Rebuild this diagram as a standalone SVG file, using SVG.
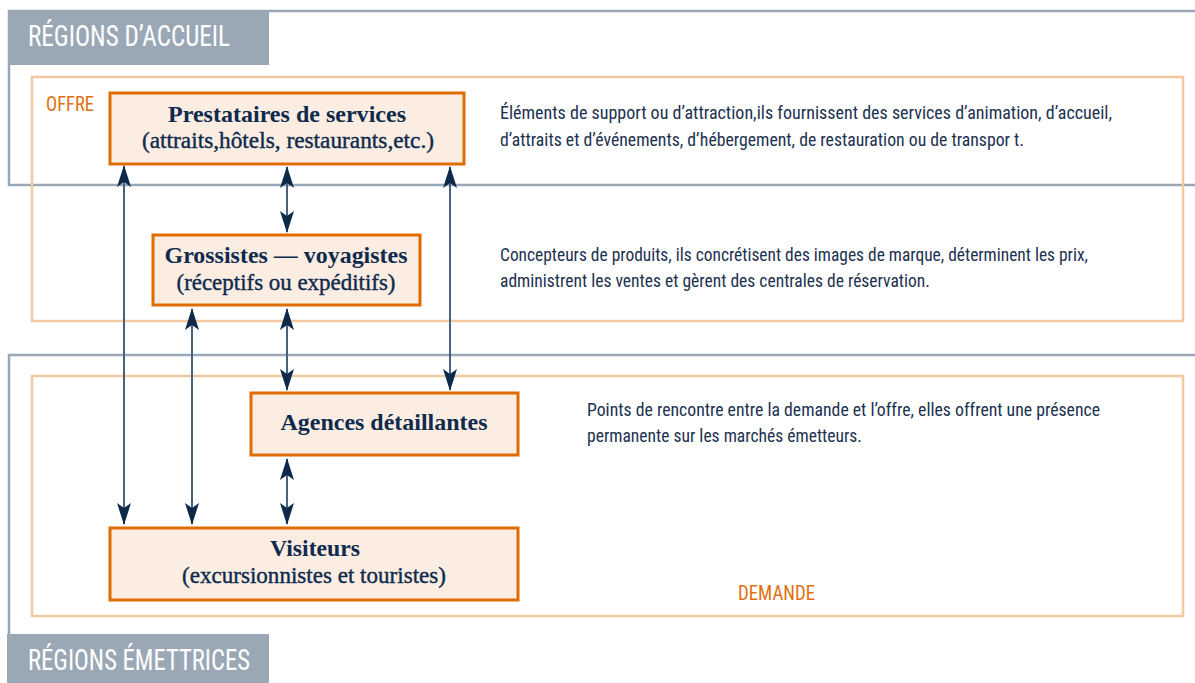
<svg xmlns="http://www.w3.org/2000/svg" width="1195" height="683" viewBox="0 0 1195 683">
<style>
.frame{fill:none;stroke:#9aa8b6;stroke-width:2.5}
.zone{fill:none;stroke:#f4c8a0;stroke-width:2.5}
.tab{fill:#9aa8b6}
.tabtxt{font-family:"Liberation Sans Narrow","Roboto Condensed","Liberation Sans",sans-serif;font-size:30px;fill:#ffffff}
.zlbl{font-family:"Liberation Sans Narrow","Roboto Condensed","Liberation Sans",sans-serif;font-size:20px;fill:#e07010}
.desc{font-family:"Liberation Sans Narrow","Roboto Condensed","Liberation Sans",sans-serif;font-size:19px;fill:#1c3150}
.box{fill:#fcede3;stroke:#e06c00;stroke-width:3}
.t1{font-family:"Liberation Serif","Times New Roman",serif;font-weight:bold;font-size:23px;fill:#0f2a4c;text-anchor:middle}
.t2{font-family:"Liberation Serif","Times New Roman",serif;font-size:23px;fill:#0f2a4c;stroke:#0f2a4c;stroke-width:0.4;text-anchor:middle}
.conn{stroke:#4a6080;stroke-width:2;fill:none;marker-start:url(#ah);marker-end:url(#ah)}
</style>
<defs>
<marker id="ah" viewBox="0 0 22 16" refX="21" refY="8" markerWidth="22" markerHeight="16" markerUnits="userSpaceOnUse" orient="auto-start-reverse">
<path d="M0,1 L22,8 L0,15 L5,8 Z" fill="#0d2a4a"/>
</marker>
</defs>
<rect width="1195" height="683" fill="#ffffff"/>
<g id="regions-accueil">
<rect class="frame" x="9" y="11" width="1200" height="174"/>
<rect class="tab" x="8" y="10" width="261" height="55"/>
<text class="tabtxt" x="28" y="46" textLength="202" lengthAdjust="spacingAndGlyphs">RÉGIONS D’ACCUEIL</text>
</g>
<g id="regions-emettrices">
<rect class="frame" x="9" y="355" width="1200" height="400"/>
<rect class="tab" x="7" y="634" width="262" height="50"/>
<text class="tabtxt" x="28" y="670" textLength="222" lengthAdjust="spacingAndGlyphs">RÉGIONS ÉMETTRICES</text>
</g>
<g id="offre">
<rect class="zone" x="32" y="77" width="1151" height="244"/>
<text class="zlbl" x="46" y="111" textLength="48" lengthAdjust="spacingAndGlyphs">OFFRE</text>
</g>
<g id="demande">
<rect class="zone" x="32" y="376" width="1151" height="240"/>
<text class="zlbl" x="738" y="600" textLength="77" lengthAdjust="spacingAndGlyphs">DEMANDE</text>
</g>
<g id="connectors">
<line class="conn" x1="124" y1="166" x2="124" y2="524"/>
<line class="conn" x1="287" y1="167" x2="287" y2="232"/>
<line class="conn" x1="450" y1="167" x2="450" y2="390"/>
<line class="conn" x1="192" y1="309" x2="192" y2="524"/>
<line class="conn" x1="287" y1="309" x2="287" y2="390"/>
<line class="conn" x1="287" y1="459" x2="287" y2="524"/>
</g>
<g id="prestataires">
<rect class="box" x="110" y="93" width="354" height="71"/>
<text class="t1" x="287" y="122" textLength="238" lengthAdjust="spacingAndGlyphs">Prestataires de services</text>
<text class="t2" x="288" y="148" textLength="292" lengthAdjust="spacingAndGlyphs">(attraits,hôtels, restaurants,etc.)</text>
</g>
<g id="grossistes">
<rect class="box" x="153" y="235" width="267" height="70"/>
<text class="t1" x="286" y="263" textLength="243" lengthAdjust="spacingAndGlyphs">Grossistes — voyagistes</text>
<text class="t2" x="286" y="290" textLength="219" lengthAdjust="spacingAndGlyphs">(réceptifs ou expéditifs)</text>
</g>
<g id="agences">
<rect class="box" x="251" y="393" width="267" height="62"/>
<text class="t1" x="384" y="430" textLength="207" lengthAdjust="spacingAndGlyphs">Agences détaillantes</text>
</g>
<g id="visiteurs">
<rect class="box" x="110" y="528" width="408" height="72"/>
<text class="t1" x="315" y="556" textLength="90" lengthAdjust="spacingAndGlyphs">Visiteurs</text>
<text class="t2" x="314" y="583" textLength="264" lengthAdjust="spacingAndGlyphs">(excursionnistes et touristes)</text>
</g>
<g id="descriptions">
<text class="desc" x="500" y="119" textLength="612" lengthAdjust="spacingAndGlyphs">Éléments de support ou d’attraction,ils fournissent des services d’animation, d’accueil,</text>
<text class="desc" x="500" y="146" textLength="524" lengthAdjust="spacingAndGlyphs">d’attraits et d’événements, d’hébergement, de restauration ou de transpor t.</text>
<text class="desc" x="500" y="261" textLength="588" lengthAdjust="spacingAndGlyphs">Concepteurs de produits, ils concrétisent des images de marque, déterminent les prix,</text>
<text class="desc" x="500" y="287" textLength="430" lengthAdjust="spacingAndGlyphs">administrent les ventes et gèrent des centrales de réservation.</text>
<text class="desc" x="587" y="416" textLength="513" lengthAdjust="spacingAndGlyphs">Points de rencontre entre la demande et l’offre, elles offrent une présence</text>
<text class="desc" x="587" y="442" textLength="275" lengthAdjust="spacingAndGlyphs">permanente sur les marchés émetteurs.</text>
</g>
</svg>
